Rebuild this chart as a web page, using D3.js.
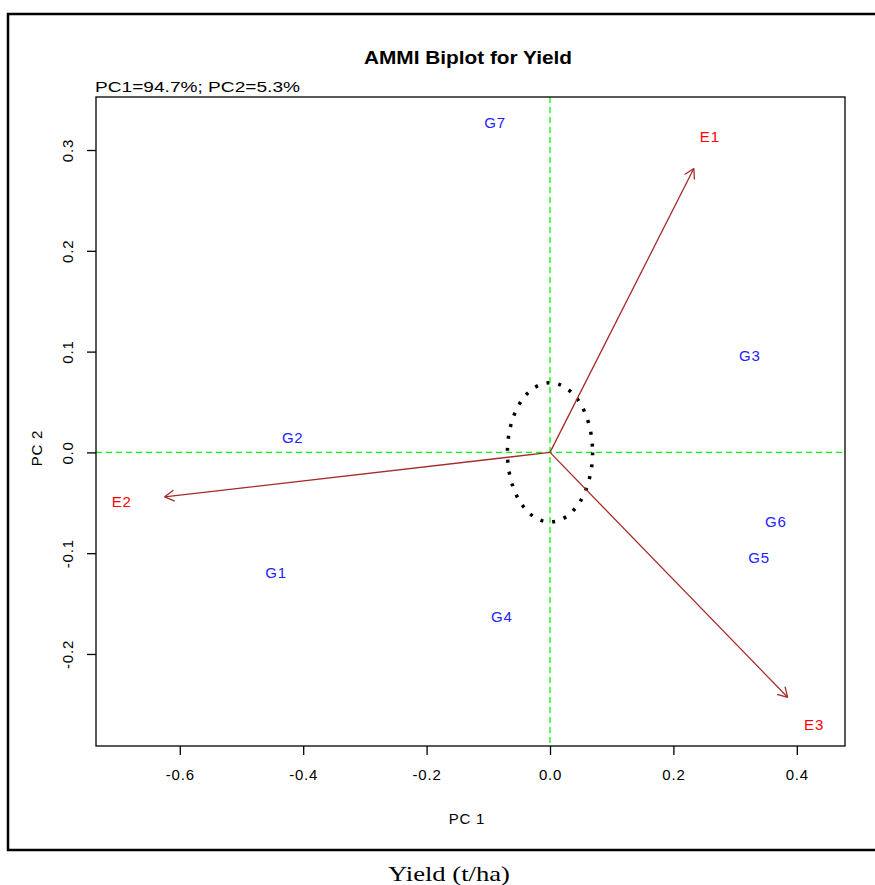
<!DOCTYPE html>
<html>
<head>
<meta charset="utf-8">
<script src="https://cdnjs.cloudflare.com/ajax/libs/d3/7.8.5/d3.min.js"></script>
<style>
body { margin: 0; background: #fff; }
svg text { font-family: "Liberation Sans", Arial, sans-serif; }
</style>
</head>
<body>
<div id="chart"></div>
<script>
// genotype scores (PC1, PC2)
var genoNames = ["G1", "G2", "G3", "G4", "G5", "G6", "G7"];
var genoPC1 = [-0.444, -0.417, 0.324, -0.078, 0.339, 0.366, -0.089];
var genoPC2 = [-0.119, 0.015, 0.096, -0.163, -0.104, -0.069, 0.327];

// environment scores (PC1, PC2)
var envNames = ["E1", "E2", "E3"];
var envPC1 = [0.259, -0.694, 0.428];
var envPC2 = [0.313, -0.049, -0.270];

var xTicks = [-0.6, -0.4, -0.2, 0.0, 0.2, 0.4];
var yTicks = [-0.2, -0.1, 0.0, 0.1, 0.2, 0.3];

var ARROWFRAC = 0.9;   // arrows stop short of the env labels
var CIRCLE_R = 0.069;

var W = 875, H = 885;
var plot = {left: 96, right: 845, top: 97, bottom: 746};

var xScale = d3.scaleLinear().domain([-0.7358, 0.4781]).range([plot.left, plot.right]);
var yScale = d3.scaleLinear().domain([-0.2913, 0.3526]).range([plot.bottom, plot.top]);
var FMT = function(v) { return d3.format(".1f")(v).replace("\u2212", "-"); };

var svg = d3.select("#chart")
	.append("svg")
	.attr("width", W)
	.attr("height", H);

// outer frame (runs off the right side)
svg.append("path")
	.attr("d", "M" + (W + 5) + ",14H8V850H" + (W + 5))
	.attr("fill", "none")
	.attr("stroke", "#000")
	.attr("stroke-width", 2.5);

svg.append("text")
	.attr("x", 468)
	.attr("y", 64)
	.attr("text-anchor", "middle")
	.attr("textLength", 208)
	.attr("lengthAdjust", "spacingAndGlyphs")
	.style("font-size", "19px")
	.style("font-weight", "bold")
	.text("AMMI Biplot for Yield");

svg.append("text")
	.attr("x", 95)
	.attr("y", 92)
	.attr("textLength", 205)
	.attr("lengthAdjust", "spacingAndGlyphs")
	.style("font-size", "15px")
	.text("PC1=94.7%; PC2=5.3%");

// axes
var xAxis = svg.append("g")
	.attr("transform", "translate(0," + plot.bottom + ")")
	.call(d3.axisBottom(xScale).tickValues(xTicks).tickFormat(FMT).tickSizeOuter(0).tickSize(9).tickPadding(14));

var yAxis = svg.append("g")
	.attr("transform", "translate(" + plot.left + ",0)")
	.call(d3.axisLeft(yScale).tickValues(yTicks).tickFormat(FMT).tickSizeOuter(0).tickSize(9));

xAxis.select(".domain").remove();
yAxis.select(".domain").remove();
svg.selectAll(".tick line").attr("stroke", "#000").attr("stroke-width", 1.3);
svg.selectAll(".tick text")
	.style("font-size", "15px")
	.style("letter-spacing", "0.8px")
	.style("font-family", "Liberation Sans, Arial, sans-serif")
	.attr("fill", "#000");
yAxis.selectAll("text")
	.attr("x", null).attr("dy", null)
	.attr("text-anchor", "middle")
	.attr("transform", "translate(-23,0) rotate(-90)")
	.attr("y", 0);

svg.append("text")
	.attr("x", 467)
	.attr("y", 824)
	.attr("text-anchor", "middle")
	.style("font-size", "15px")
	.style("letter-spacing", "0.8px")
	.text("PC 1");

svg.append("text")
	.attr("transform", "translate(42,448) rotate(-90)")
	.attr("text-anchor", "middle")
	.style("font-size", "15px")
	.style("letter-spacing", "0.8px")
	.text("PC 2");

// reference lines
svg.append("line")
	.attr("x1", plot.left).attr("x2", plot.right)
	.attr("y1", yScale(0)).attr("y2", yScale(0))
	.attr("stroke", "#00ff00").attr("stroke-width", 1.3)
	.attr("stroke-dasharray", "6,4");

svg.append("line")
	.attr("x1", xScale(0)).attr("x2", xScale(0))
	.attr("y1", plot.top).attr("y2", plot.bottom)
	.attr("stroke", "#00ff00").attr("stroke-width", 1.3)
	.attr("stroke-dasharray", "6,4");

// dotted circle around origin
svg.append("ellipse")
	.attr("cx", xScale(0))
	.attr("cy", yScale(0))
	.attr("rx", xScale(CIRCLE_R) - xScale(0))
	.attr("ry", yScale(0) - yScale(CIRCLE_R))
	.attr("fill", "none")
	.attr("stroke", "#000")
	.attr("stroke-width", 3.5)
	.attr("stroke-dasharray", "3,9");

// environment vectors
var envData = envNames.map(function(n, i) { return {name: n, x: envPC1[i], y: envPC2[i]}; });
var genoData = genoNames.map(function(n, i) { return {name: n, x: genoPC1[i], y: genoPC2[i]}; });

envData.forEach(function(d) {
	var x0 = xScale(0), y0 = yScale(0);
	var x1 = xScale(d.x * ARROWFRAC), y1 = yScale(d.y * ARROWFRAC);
	var ang = Math.atan2(y1 - y0, x1 - x0);
	var len = 11, spread = Math.PI / 6;
	svg.append("line")
		.attr("x1", x0).attr("y1", y0)
		.attr("x2", x1).attr("y2", y1)
		.attr("stroke", "#a52a2a").attr("stroke-width", 1.3);
	[-spread, spread].forEach(function(s) {
		svg.append("line")
			.attr("x1", x1).attr("y1", y1)
			.attr("x2", x1 - len * Math.cos(ang + s))
			.attr("y2", y1 - len * Math.sin(ang + s))
			.attr("stroke", "#a52a2a").attr("stroke-width", 1.3);
	});
});

svg.selectAll(".envLabel")
	.data(envData)
	.enter()
	.append("text")
	.attr("class", "envLabel")
	.attr("x", function(d) { return xScale(d.x); })
	.attr("y", function(d) { return yScale(d.y); })
	.attr("dy", "0.36em")
	.attr("text-anchor", "middle")
	.attr("fill", "#ff0000")
	.style("font-size", "15px")
	.style("letter-spacing", "0.8px")
	.text(function(d) { return d.name; });

svg.selectAll(".genoLabel")
	.data(genoData)
	.enter()
	.append("text")
	.attr("class", "genoLabel")
	.attr("x", function(d) { return xScale(d.x); })
	.attr("y", function(d) { return yScale(d.y); })
	.attr("dy", "0.36em")
	.attr("text-anchor", "middle")
	.attr("fill", "#2222ff")
	.style("font-size", "15px")
	.style("letter-spacing", "0.8px")
	.text(function(d) { return d.name; });

// plot box
svg.append("rect")
	.attr("x", plot.left).attr("y", plot.top)
	.attr("width", plot.right - plot.left)
	.attr("height", plot.bottom - plot.top)
	.attr("fill", "none")
	.attr("stroke", "#000")
	.attr("stroke-width", 1.3);

svg.append("text")
	.attr("x", 449)
	.attr("y", 881)
	.attr("text-anchor", "middle")
	.attr("textLength", 122)
	.attr("lengthAdjust", "spacingAndGlyphs")
	.style("font-family", "Liberation Serif, Times New Roman, serif")
	.style("font-size", "22px")
	.text("Yield (t/ha)");
</script>
</body>
</html>
